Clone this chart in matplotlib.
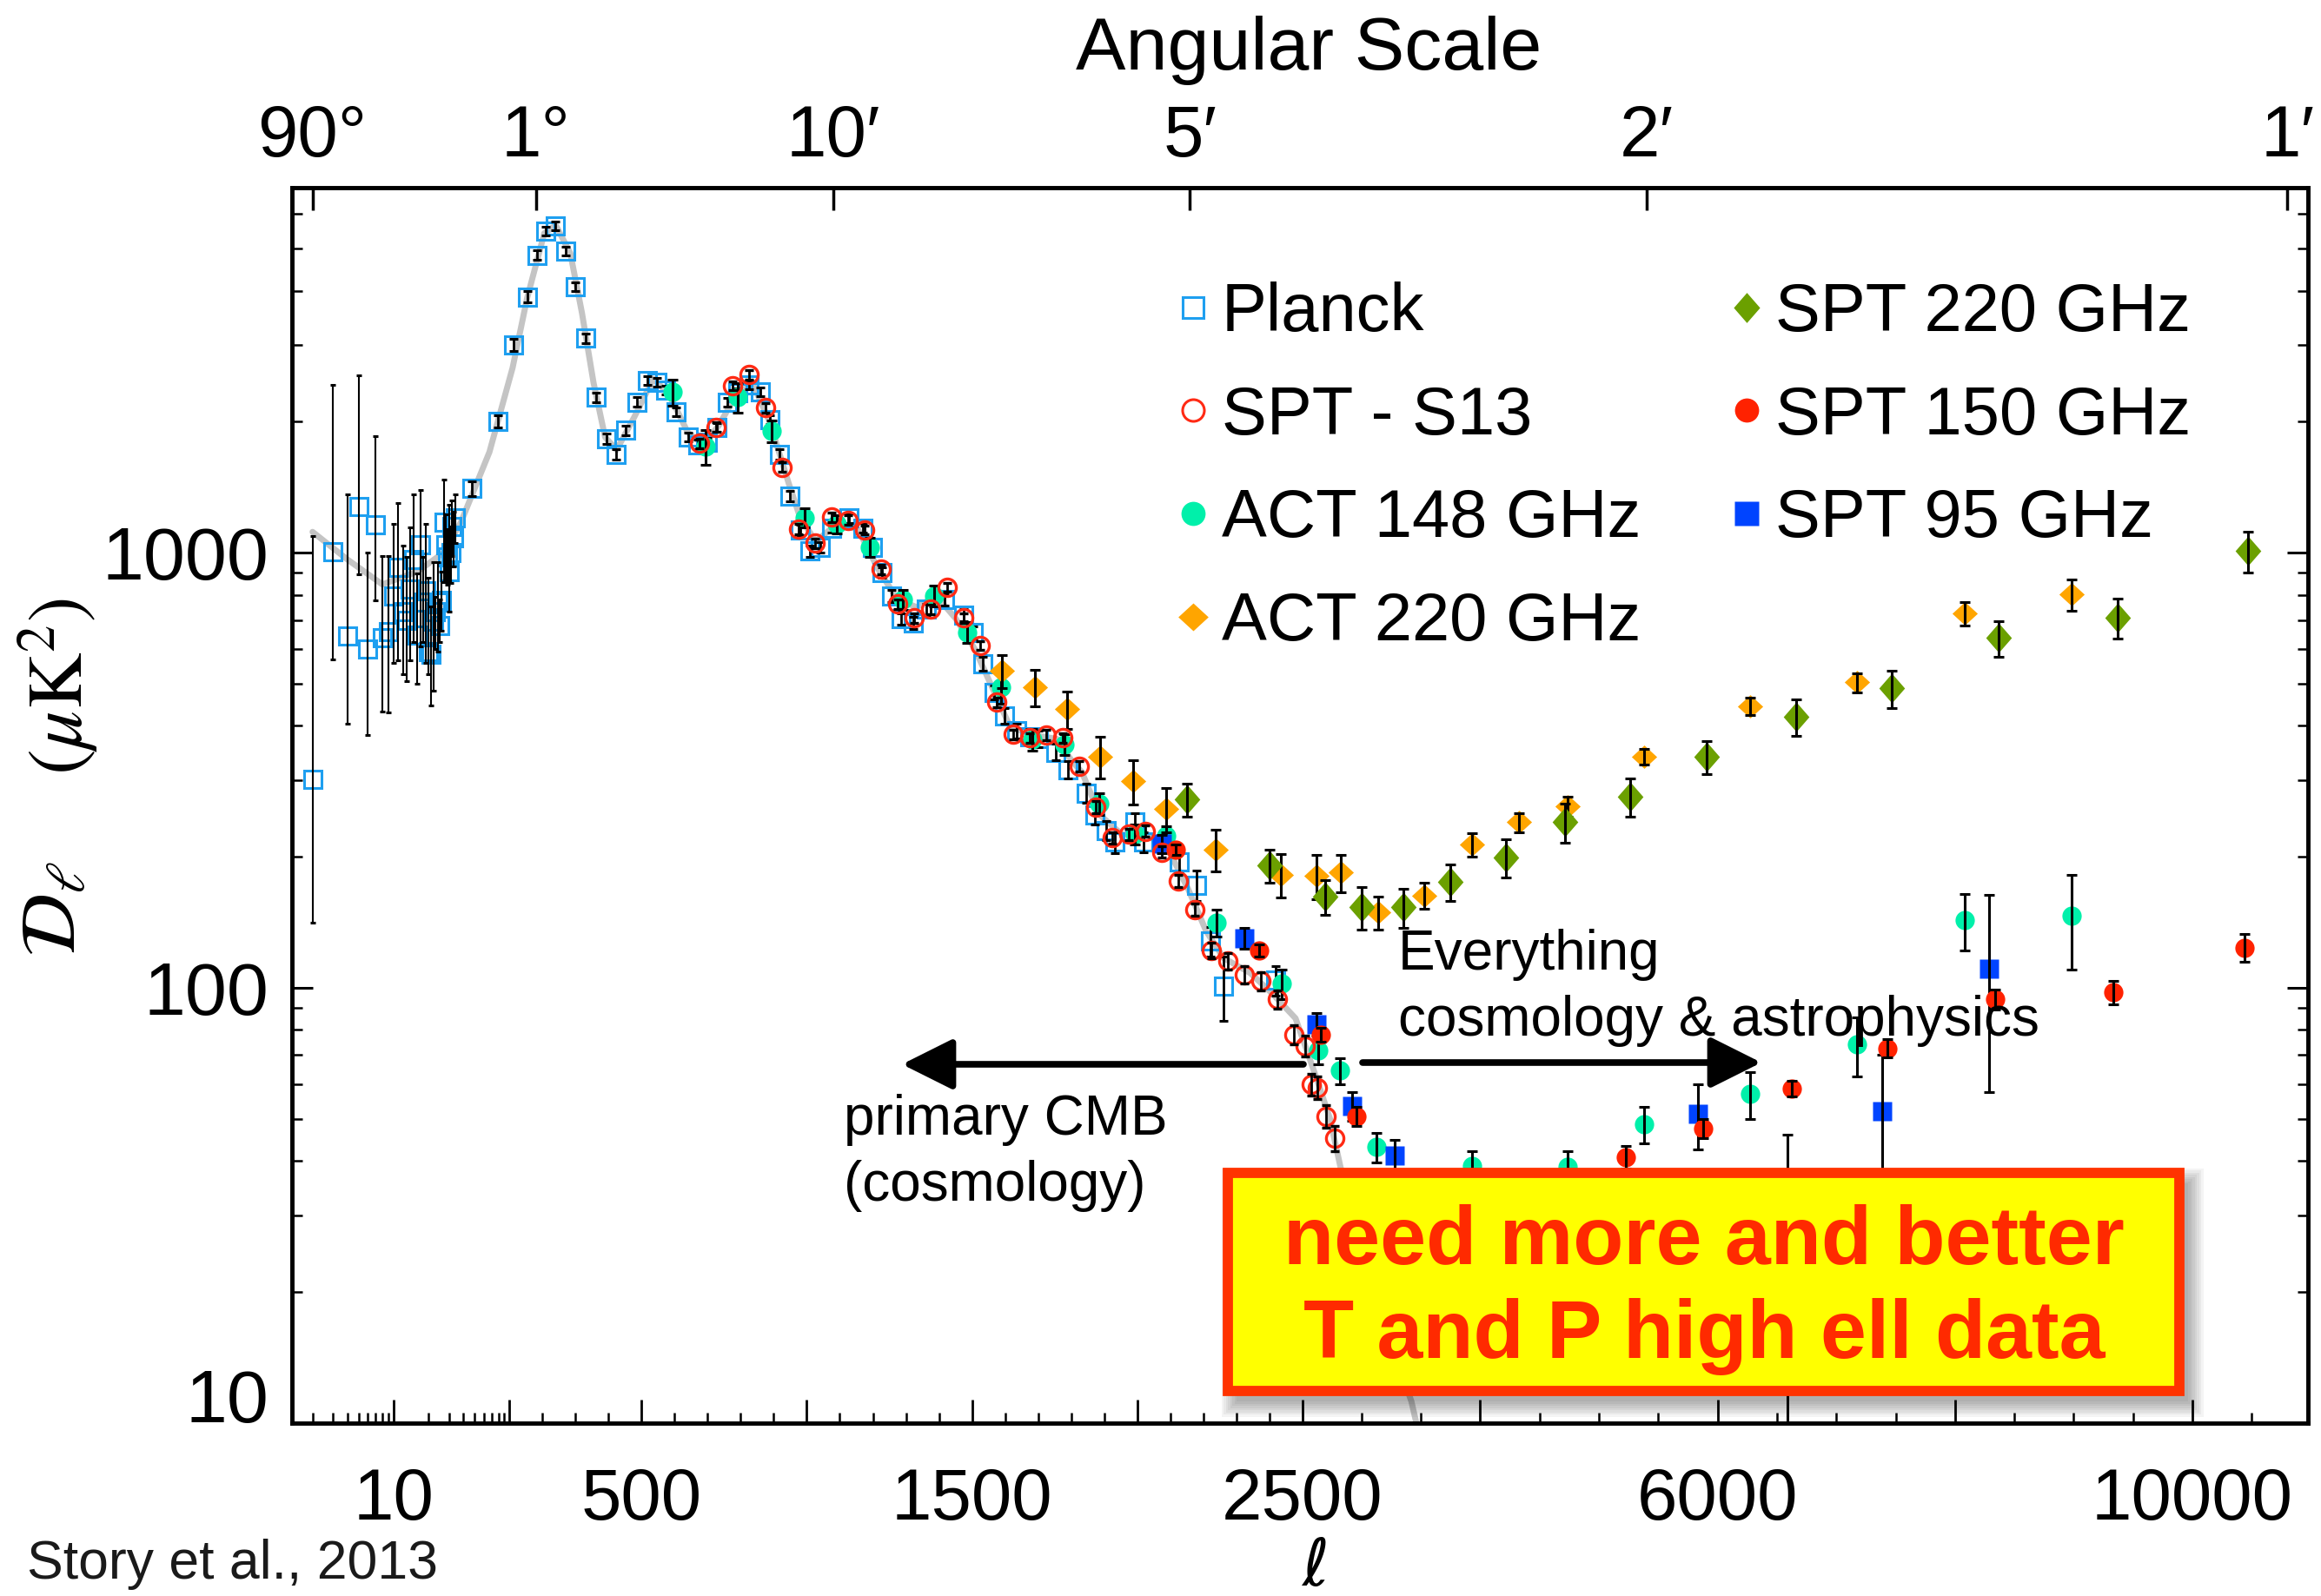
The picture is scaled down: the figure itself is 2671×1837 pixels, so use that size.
import numpy as np
import matplotlib
matplotlib.use('Agg')
import matplotlib.pyplot as plt
from matplotlib.lines import Line2D
from matplotlib.patches import Rectangle
from matplotlib.ticker import NullLocator, NullFormatter

plt.rcParams['font.family'] = ['Liberation Sans', 'DejaVu Sans']

W, H = 2671, 1837

# ---------------- data ----------------
theory_l = [2, 4, 8, 16, 27, 38, 67, 109, 153, 205, 240, 284, 319, 354, 389, 424, 477, 535, 582, 640,
            688, 734, 793, 840, 887, 945, 980, 1027, 1098, 1156, 1215, 1274, 1333, 1392, 1451, 1510,
            1557, 1616, 1686, 1757, 1805, 1833, 1886, 1954, 2033, 2101, 2154, 2209, 2262, 2343, 2409,
            2480, 2620, 2734, 2820, 3000, 3200, 3420, 3480]
theory_d = [1116, 964, 845, 904, 1000, 1174, 1703, 2660, 3846, 5420, 5652, 4870, 3557, 2460, 1843, 1722,
            2046, 2508, 2318, 1886, 1771, 1963, 2357, 2410, 2003, 1444, 1202, 1062, 1174, 1127, 920, 780,
            749, 796, 705, 598, 498, 397, 381, 373, 330, 313, 250, 225, 225, 203, 169, 135, 117, 108, 97,
            85, 62, 50, 39, 25, 16.5, 11.2, 9.5]

planck_low_l = list(range(2, 35))
planck_low_d = [301, 1003, 644, 1278, 601, 1160, 638, 658, 796, 927, 732, 700, 824, 964, 646, 1043, 771,
                816, 591, 583, 694, 732, 771, 680, 775, 1175, 1043, 977, 903, 1000, 1150, 1080, 1200]
planck_low_lo = [141, 569, 405, 892, 380, 777, 431, 429, 558, 566, 526, 506, 566, 624, 500, 609, 624,
                 558, 526, 445, 482, 600, 593, 624, 660, 857, 857, 845, 732, 850, 980, 930, 1050]
planck_low_hi = [1092, 2425, 1360, 2557, 998, 1853, 982, 980, 1166, 1299, 1037, 977, 1145, 1360, 896,
                 1395, 977, 1166, 875, 751, 952, 791, 952, 781, 903, 1470, 1224, 1132, 1289, 1150,
                 1320, 1240, 1360]

planck_l = [47, 79, 113, 153, 182, 208, 238, 270, 300, 329,
            361, 393, 423, 452, 485, 516, 546, 572, 605, 640,
            669, 699, 728, 758, 792, 825, 858, 887, 916, 949,
            981, 1010, 1040, 1075, 1128, 1169, 1198, 1227, 1256, 1286,
            1322, 1363, 1416, 1475, 1503, 1532, 1568, 1598, 1636, 1674,
            1701, 1755, 1790, 1846, 1872, 1906, 1932, 1993, 2019, 2128,
            2181, 2222, 2262, 2420]
planck_d = [1406, 2005, 3008, 3873, 4831, 5495, 5640, 4932, 4085, 3112,
            2275, 1826, 1682, 1910, 2219, 2485, 2460, 2360, 2109, 1844,
            1771, 1790, 1942, 2219, 2330, 2430, 2345, 2023, 1682, 1349,
            1128, 1008, 1029, 1140, 1200, 1140, 1029, 900, 796, 704,
            690, 741, 780, 719, 656, 556, 477, 422, 389, 377,
            373, 348, 317, 280, 250, 230, 216, 240, 216, 195,
            172, 128, 101, 104]
planck_e = [55, 65, 95, 110, 120, 125, 125, 115, 100, 80,
            60, 50, 45, 50, 55, 60, 55, 55, 50, 45,
            45, 45, 45, 50, 55, 55, 55, 50, 45, 35,
            30, 30, 30, 30, 30, 30, 30, 25, 25, 22,
            22, 22, 24, 24, 22, 20, 18, 17, 16, 16,
            16, 15, 15, 14, 13, 12, 12, 12, 11, 12,
            14, 10, 17, 8]

s13_l = [675, 725, 775, 825, 875, 925, 975, 1025, 1075, 1125,
         1175, 1225, 1275, 1325, 1375, 1425, 1475, 1525, 1575, 1625,
         1675, 1725, 1775, 1825, 1875, 1925, 1975, 2025, 2075, 2125,
         2175, 2225, 2275, 2325, 2375, 2425, 2475, 2525, 2575, 2625,
         2700, 2775]
s13_d = [1782, 1942, 2419, 2562, 2153, 1573, 1133, 1050, 1205, 1187,
         1128, 915, 761, 707, 741, 833, 707, 612, 453, 382,
         375, 381, 375, 323, 260, 221, 225, 229, 205, 176,
         151, 122, 115, 107, 103.5, 94, 78, 73.5, 60, 59,
         50.6, 45]
s13_e = [45, 50, 60, 60, 55, 40, 30, 28, 30, 30,
         28, 24, 20, 18, 18, 20, 17, 15, 12, 10,
         10, 10, 10, 9, 8, 7, 7, 7, 6, 6,
         5, 5, 5, 5, 5, 4.5, 4, 4, 3.5, 3.5,
         3, 3]

act148_l = [593, 693, 790, 893, 993, 1092, 1192, 1292, 1386, 1486,
            1588, 1683, 1780, 1885, 1993, 2088, 2240, 2438, 2638, 2820,
            3123, 3930, 4733, 5378, 6275, 7175, 8084, 8982]
act148_d = [2338, 1753, 2275, 1901, 1202, 1164, 1029, 780, 796, 656,
            490, 372, 362, 265, 225, 223, 141, 102, 71.7, 64.4,
            43, 39, 38.8, 48.5, 57, 74, 143, 146]
act148_e = [165, 160, 175, 108, 60, 55, 53, 40, 45, 35,
            40, 22, 20, 15, 12, 12, 10, 8, 5, 4.5,
            3.3, 3, 3.3, 4.6, 7, 11.5, 21, 36]

act220_l = [1590, 1690, 1789, 1888, 1989, 2088, 2238, 2436, 2619, 2824,
            3137, 3530, 3928, 4328, 4733, 5378, 6277, 7176, 8080, 8983]
act220_d = [535, 491, 437, 340, 298, 258, 208, 182, 181, 184,
            149, 163, 213, 240, 261, 340, 444, 503, 726, 802]
act220_e = [46, 47, 43, 38, 35, 30, 23, 21, 21, 18,
            13, 11, 13, 12, 14, 14, 20, 25, 45, 66]

spt220_l = [2150, 2400, 2696, 3000, 3350, 3750, 4213, 4713, 5263, 5910, 6664, 7468, 8366, 9372, 10467]
spt220_d = [271, 191, 162, 153, 153, 175, 199, 240, 275, 339, 419, 488, 637, 709, 1009]
spt220_e = [24, 17, 15, 17, 16, 17, 20, 25, 28, 30, 40, 48, 60, 75, 108]

spt150_l = [2118, 2369, 2660, 2958, 5227, 5875, 6628, 7432, 8335, 9336, 10441]
spt150_d = [207.5, 122, 78, 50.6, 40.8, 47.5, 58.6, 72.5, 94, 97.5, 123.6]
spt150_e = [6, 4, 3, 2.5, 2.5, 2.5, 2.5, 3.5, 5, 6, 9]

spt95_l = [2075, 2326, 2620, 2921, 3278, 5832, 6590, 7387, 8289]
spt95_d = [214, 130, 82.5, 53.5, 41.2, 51.2, 27, 52, 110.4]
spt95_e = [10, 7, 5, 4, 3.5, 8.8, 19, 18, 53]

x_major = [10, 100, 500, 1000, 1500, 2000, 2500, 4000, 6000, 8000, 10000]
x_labels = ['10', '', '500', '', '1500', '', '2500', '', '6000', '', '10000']
ang_l = [2, 180, 1080, 2160, 5400, 10800]
ang_labels = ['90°', '1°', '10′', '5′', '2′', '1′']

c_planck = '#1E9FF0'
c_s13 = '#FF2A14'
c_act148 = '#00F0AA'
c_act220 = '#FFA500'
c_spt220 = '#6BA000'
c_spt150 = '#FF2200'
c_spt95 = '#0044FF'

# ---------------- hybrid ell axis: log to 100, then two linear pieces ----------------
DEC, S1, S2 = 133.5, 0.38, 0.1366
B1 = 2 * DEC
B2 = B1 + 2400 * S1


def ell_fwd(l):
    l = np.asarray(l, dtype=float)
    lg = DEC * np.log10(np.clip(l, 1e-3, None))
    mid = B1 + (l - 100) * S1
    hi = B2 + (l - 2500) * S2
    return np.where(l <= 100, lg, np.where(l <= 2500, mid, hi))


def ell_inv(u):
    u = np.asarray(u, dtype=float)
    lg = 10 ** (np.minimum(u, B1) / DEC)
    mid = 100 + (u - B1) / S1
    hi = 2500 + (u - B2) / S2
    return np.where(u <= B1, lg, np.where(u <= B2, mid, hi))


def fx(x):
    return x / W


def fy(y):
    return 1 - y / H


fig = plt.figure(figsize=(W / 100, H / 100), dpi=100)
fig.patch.set_facecolor('white')
ax = fig.add_axes([336 / W, 1 - 1637.5 / H, 2320 / W, 1421.5 / H])
ax.set_xscale('function', functions=(ell_fwd, ell_inv))
ax.set_yscale('log')
ax.set_xlim(1.33, 10973)
ax.set_ylim(10, 6900)

ax.plot(theory_l, theory_d, color='#c4c4c4', lw=5, zorder=1, solid_capstyle='round')

lo = np.array(planck_low_d) - np.array(planck_low_lo)
hi = np.array(planck_low_hi) - np.array(planck_low_d)
ax.errorbar(planck_low_l, planck_low_d, yerr=[lo, hi], ls='none', marker='s', ms=14.5,
            mfc='none', mec=c_planck, mew=2.2, ecolor='k', elinewidth=1.5, capsize=2.5,
            capthick=1.5, barsabove=True, zorder=2)
ax.errorbar(planck_l, planck_d, yerr=planck_e, ls='none', marker='s', ms=14.5,
            mfc='none', mec=c_planck, mew=2.2, ecolor='k', elinewidth=2, capsize=3.5,
            capthick=2, barsabove=True, zorder=2)

diamond_wide = [(0, 0.92), (1, 0), (0, -0.92), (-1, 0)]
diamond_tall = [(0, 1), (0.87, 0), (0, -1), (-0.87, 0)]
eb = dict(ls='none', ecolor='k', elinewidth=2.2, capsize=4.5, capthick=2.2, barsabove=True)

ax.errorbar(act148_l, act148_d, yerr=act148_e, marker='o', ms=16, mfc=c_act148, mec='none',
            zorder=3, **eb)
ax.errorbar(act220_l, act220_d, yerr=act220_e, marker=diamond_wide, ms=21, mfc=c_act220,
            mec='none', zorder=3.1, **eb)
ax.errorbar(spt220_l, spt220_d, yerr=spt220_e, marker=diamond_tall, ms=24.5, mfc=c_spt220,
            mec='none', zorder=3.2, **eb)
ax.errorbar(spt95_l, spt95_d, yerr=spt95_e, marker='s', ms=16.5, mfc=c_spt95, mec='none',
            zorder=3.3, **eb)
ax.errorbar(spt150_l, spt150_d, yerr=spt150_e, marker='o', ms=16, mfc=c_spt150, mec='none',
            zorder=3.4, **eb)
ax.errorbar(s13_l, s13_d, yerr=s13_e, ls='none', marker='o', ms=14.5, mfc='none', mec=c_s13,
            mew=2.4, ecolor='k', elinewidth=2, capsize=3.5, capthick=2, barsabove=True, zorder=3.5)

# ticks
ax.set_xticks(x_major, x_labels)
x_minor = (list(range(2, 10)) + list(range(20, 100, 10))
           + [v for v in range(200, 2500, 100) if v % 500 != 0]
           + [v for v in range(3000, 11000, 500) if v not in x_major])
ax.set_xticks(x_minor, minor=True)
ax.set_yticks([10, 100, 1000], ['10', '100', '1000'])
ax.yaxis.set_minor_formatter(NullFormatter())
ax.tick_params(axis='x', which='major', direction='in', labelsize=60, pad=36, length=19.5, width=2,
               top=False)
ax.tick_params(axis='x', which='minor', direction='in', length=8.6, width=1.8, top=False)
ax.tick_params(axis='y', which='major', direction='in', labelsize=62, pad=19, length=17, width=2.2,
               left=True, right=True)
ax.tick_params(axis='y', which='minor', direction='in', length=8.5, width=1.8, left=True, right=True)
ax.yaxis.get_major_ticks()[0].label1.set_va('baseline')

ax2 = ax.twiny()
ax2.set_xscale('function', functions=(ell_fwd, ell_inv))
ax2.set_xlim(ax.get_xlim())
ax2.set_xticks(ang_l, ang_labels)
ax2.xaxis.set_minor_locator(NullLocator())
ax2.tick_params(axis='x', which='major', direction='in', labelsize=60, pad=14, length=19, width=2.5)

for a in (ax, ax2):
    for s in a.spines.values():
        s.set_linewidth(3.3)

# legend
handles = [
    Line2D([], [], ls='none', marker='s', ms=17, mfc='none', mec=c_planck, mew=2.2),
    Line2D([], [], ls='none', marker='o', ms=18, mfc='none', mec=c_s13, mew=2.2),
    Line2D([], [], ls='none', marker='o', ms=20, mfc=c_act148, mec='none'),
    Line2D([], [], ls='none', marker=diamond_wide, ms=25, mfc=c_act220, mec='none'),
    Line2D([], [], ls='none', marker=diamond_tall, ms=25, mfc=c_spt220, mec='none'),
    Line2D([], [], ls='none', marker='o', ms=20, mfc=c_spt150, mec='none'),
    Line2D([], [], ls='none', marker='s', ms=20, mfc=c_spt95, mec='none'),
]
labels = ['Planck', 'SPT - S13', 'ACT 148 GHz', 'ACT 220 GHz',
          'SPT 220 GHz', 'SPT 150 GHz', 'SPT 95 GHz']
ax.legend(handles, labels, ncol=2, loc='upper left', bbox_to_anchor=(fx(1357.5), fy(324)),
          bbox_transform=fig.transFigure, frameon=False, fontsize=56, handlelength=0.4,
          handletextpad=0.225, columnspacing=1.356, labelspacing=0.587, borderpad=0,
          borderaxespad=0)

# annotations
arrow = dict(arrowstyle='-|>,head_length=0.9,head_width=0.45', lw=5.5, color='k',
             mutation_scale=40, shrinkA=0, shrinkB=0)
ax.annotate('', xy=(1038, H - 1225), xycoords='figure pixels',
            xytext=(1500, H - 1225), textcoords='figure pixels', arrowprops=arrow)
ax.annotate('', xy=(2027, H - 1223), xycoords='figure pixels',
            xytext=(1568, H - 1223), textcoords='figure pixels', arrowprops=arrow)

fig.text(fx(971), fy(1306), 'primary CMB', fontsize=46, ha='left', va='baseline')
fig.text(fx(971), fy(1382), '(cosmology)', fontsize=46, ha='left', va='baseline')
fig.text(fx(1609), fy(1116), 'Everything', fontsize=46, ha='left', va='baseline')
fig.text(fx(1609), fy(1192), 'cosmology & astrophysics', fontsize=46, ha='left', va='baseline')

# yellow box with soft shadow
for k in range(8):
    g = 2.5 * k
    fig.add_artist(Rectangle((fx(1413 + 10 - g), fy(1601 + 12 + g)),
                             (1095 + 2 * g) / W, (251 + 2 * g) / H,
                             transform=fig.transFigure, fc='black', ec='none',
                             alpha=0.045, zorder=9))
fig.add_artist(Rectangle((fx(1413), fy(1601)), 1095 / W, 251 / H, transform=fig.transFigure,
                         fc='#FFFF00', ec='#FF3300', lw=8.5, zorder=10))
fig.text(fx(1961), fy(1455), 'need more and better', ha='center', va='baseline', fontsize=68.5,
         fontweight='bold', color='#FF2A00', zorder=11)
fig.text(fx(1961), fy(1563), 'T and P high ell data', ha='center', va='baseline', fontsize=68.5,
         fontweight='bold', color='#FF2A00', zorder=11)

# axis titles
fig.text(fx(1506), fy(80), 'Angular Scale', ha='center', va='baseline', fontsize=62)
fig.text(fx(1512), fy(1805), r'$\ell$', ha='center', va='center', fontsize=54)
fig.text(fx(63), fy(1046), r'$\mathcal{D}_{\ell}$', ha='center', va='center', fontsize=64,
         rotation=90, math_fontfamily='stix')
fig.text(fx(67), fy(790), r'$(\mu\mathrm{K}^2)$', ha='center', va='center', fontsize=64,
         rotation=90, math_fontfamily='stix')
fig.text(fx(31), fy(1817), 'Story et al., 2013', ha='left', va='baseline', fontsize=45,
         color='#1a1a1a')

fig.savefig('out.png', dpi=100)
